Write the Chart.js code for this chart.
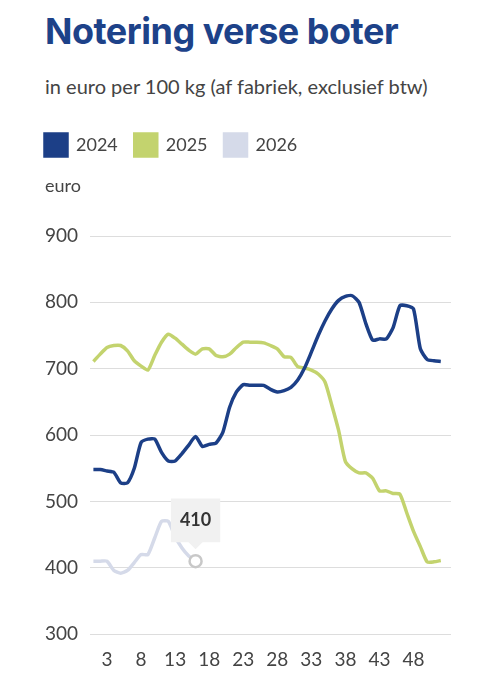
<!DOCTYPE html>
<html>
<head>
<meta charset="utf-8">
<script src="https://cdn.jsdelivr.net/npm/chart.js@4"></script>
<style>
  body { margin: 0; background: #fff; width: 503px; height: 680px; position: relative; overflow: hidden; }
  h1 { position: absolute; left: 45px; top: 9px; margin: 0; font: 700 36px Inter, sans-serif; color: #1d4289; letter-spacing: -0.5px; }
  .sub { position: absolute; left: 45px; top: 74px; margin: 0; font: 20px Lato, sans-serif; color: #444; }
  #wrap { position: absolute; left: 0; top: 117px; width: 503px; height: 563px; }
</style>
</head>
<body>
<h1>Notering verse boter</h1>
<p class="sub">in euro per 100 kg (af fabriek, exclusief btw)</p>
<div id="wrap"><canvas id="chart"></canvas></div>
<script>
const weeks = [];
for (let w = 1; w <= 53; w++) weeks.push(w);

const series = ['2024', '2025', '2026'];
const colors = ['#1c3f87', '#c3d36e', '#d5dae9'];

const values2024 = [548, 548, 546, 544, 528, 528, 550, 589, 594, 594,
  574, 561, 561, 572, 585, 598, 583, 586, 588, 604,
  642, 665, 676, 675, 675, 675, 669, 665, 667, 672,
  683, 701, 725, 750, 772, 790, 803, 809, 810, 800,
  768, 743, 745, 745, 762, 795, 795, 790, 730, 714,
  712, 711];

const values2025 = [711, 722, 732, 735, 735, 727, 712, 704, 698, 720,
  740, 752, 746, 737, 728, 722, 730, 730, 720, 718,
  722, 732, 740, 740, 740, 739, 735, 730, 718, 717,
  703, 701, 698, 692, 680, 645, 607, 560, 549, 543,
  543, 535, 516, 516, 512, 511, 483, 455, 432, 409,
  409, 411];

const values2026 = [410, 410, 410, 396, 392, 396, 408, 420, 420, 445,
  470, 470, 447, 430, 418, 410];

const yTicks = [300, 400, 500, 600, 700, 800, 900];
const xTickLabels = [3, 8, 13, 18, 23, 28, 33, 38, 43, 48];
const unitLabel = 'euro';

// extra room under the legend for the "euro" label
const legendSpace = {
  id: 'legendSpace',
  beforeInit(chart) {
    const fit = chart.legend.fit;
    chart.legend.fit = function () {
      fit.bind(chart.legend)();
      this.height += 70;
    };
  },
  afterDraw(chart) {
    const c = chart.ctx;
    c.save();
    c.font = '18px Lato';
    c.fillStyle = '#444';
    c.textBaseline = 'middle';
    c.fillText(unitLabel, 45, chart.chartArea.top - 50);
    c.restore();
  }
};

const ctx = document.getElementById('chart').getContext('2d');
const chart = new Chart(ctx, {
  type: 'line',
  data: {
    labels: weeks,
    datasets: [values2024, values2025, values2026].map((vals, i) => ({
      label: series[i],
      data: vals,
      borderColor: colors[i],
      backgroundColor: colors[i],
      borderWidth: 3.5,
      tension: 0.2,
      pointRadius: 0,
      pointHoverRadius: i === 2 ? 6 : 0,
      pointHoverBackgroundColor: '#fff',
      pointHoverBorderColor: '#c8c8c8',
      pointHoverBorderWidth: 2.5
    }))
  },
  options: {
    responsive: true,
    maintainAspectRatio: false,
    animation: false,
    events: [],
    layout: { padding: { left: 28, right: 52, bottom: 3 } },
    plugins: {
      legend: {
        position: 'top',
        align: 'start',
        labels: {
          boxWidth: 22,
          boxHeight: 22,
          padding: 17,
          color: '#444',
          font: { family: 'Lato', size: 18 }
        }
      },
      tooltip: {
        enabled: true,
        yAlign: 'bottom',
        xAlign: 'center',
        backgroundColor: '#f1f1f1',
        bodyColor: '#333',
        bodyFont: { family: 'Lato', size: 18, weight: 'bold' },
        padding: { top: 11, bottom: 11, left: 9, right: 9 },
        caretSize: 7,
        caretPadding: 12,
        cornerRadius: 0,
        displayColors: false,
        callbacks: {
          title: () => '',
          label: c => c.formattedValue
        }
      }
    },
    scales: {
      x: {
        offset: true,
        grid: { display: false },
        border: { display: false },
        ticks: {
          autoSkip: false,
          maxRotation: 0,
          color: '#444',
          font: { family: 'Lato', size: 19 },
          padding: 6,
          callback: function (value) {
            const w = Number(this.getLabelForValue(value));
            return xTickLabels.includes(w) ? String(w) : '';
          }
        }
      },
      y: {
        min: yTicks[0],
        max: yTicks[yTicks.length - 1],
        afterBuildTicks: s => { s.ticks = yTicks.map(v => ({ value: v })); },
        afterFit: s => { s.width = 62; },
        grid: { color: '#dddddd', lineWidth: 1, drawTicks: false },
        border: { display: false },
        ticks: {
          color: '#444',
          font: { family: 'Lato', size: 19 },
          padding: 12
        }
      }
    }
  },
  plugins: [legendSpace]
});

const active = [{ datasetIndex: 2, index: values2026.length - 1 }];
chart.setActiveElements(active);
chart.tooltip.setActiveElements(active, { x: 0, y: 0 });
chart.update();
</script>
</body>
</html>
